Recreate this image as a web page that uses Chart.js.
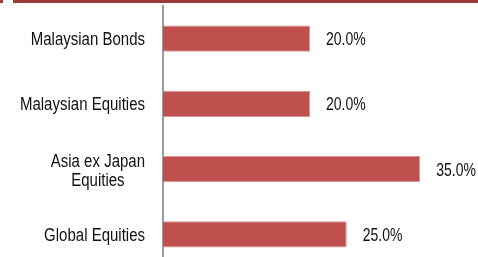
<!DOCTYPE html>
<html>
<head>
<meta charset="utf-8">
<script src="https://cdn.jsdelivr.net/npm/chart.js@4/dist/chart.umd.min.js"></script>
<style>
  html, body { margin: 0; padding: 0; background: #fff; overflow: hidden; }
  #wrap { position: relative; width: 478px; height: 257px; overflow: hidden; }
  .topline { position: absolute; top: 0; height: 3px; background: #9C3B39; }
  #chart { position: absolute; left: 0; top: 0; }
</style>
</head>
<body>
<div id="wrap">
  <canvas id="chart" width="478" height="267"></canvas>
  <div class="topline" style="left:0;width:3px"></div>
  <div class="topline" style="left:13px;right:0"></div>
</div>
<script>
// ========== Data ==========
const categories = [
    'Malaysian Bonds',
    'Malaysian Equities',
    ['Asia ex Japan', 'Equities'],
    'Global Equities'
];
const allocation = [20.0, 20.0, 35.0, 25.0];
const axisMax = 40;

const FONT = "'Liberation Sans', Arial, sans-serif";
const STRETCH = 1.25; // text in the source looks vertically stretched
const LABEL_RIGHT = 145;

function tallText(ctx, text, x, baseline) {
    ctx.save();
    ctx.translate(x, baseline);
    ctx.scale(1, STRETCH);
    ctx.fillText(text, 0, 0);
    ctx.restore();
}

// category names left of the axis + "xx.x%" right of each bar
const textLabels = {
    id: 'textLabels',
    afterDatasetsDraw(chart) {
        const ctx = chart.ctx;
        const yScale = chart.scales.y;
        const meta = chart.getDatasetMeta(0);
        ctx.save();
        ctx.fillStyle = '#111';
        ctx.textBaseline = 'alphabetic';

        ctx.font = '15px ' + FONT;
        categories.forEach((label, i) => {
            const y = yScale.getPixelForTick(i);
            if (Array.isArray(label)) {
                // multi-line labels are centred on each other, block right-aligned
                const w = Math.max(...label.map(l => ctx.measureText(l).width));
                const cx = LABEL_RIGHT - w / 2;
                ctx.textAlign = 'center';
                tallText(ctx, label[0], cx, y - 2);
                tallText(ctx, label[1], cx, y + 16.5);
            } else {
                ctx.textAlign = 'right';
                tallText(ctx, label, LABEL_RIGHT, y + 6.5);
            }
        });

        ctx.font = '14px ' + FONT;
        ctx.textAlign = 'left';
        meta.data.forEach((bar, i) => {
            tallText(ctx, allocation[i].toFixed(1) + '%', bar.x + 16, bar.y + 6.5);
        });
        ctx.restore();
    }
};

const chart = new Chart(document.getElementById('chart'), {
    type: 'bar',
    data: {
        labels: categories,
        datasets: [{
            data: allocation,
            backgroundColor: '#C0504D',
            borderColor: '#D99694',
            borderWidth: 1,
            borderSkipped: 'left',
            categoryPercentage: 0.4,
            barPercentage: 1.0
        }]
    },
    options: {
        indexAxis: 'y',
        responsive: false,
        animation: false,
        events: [],
        layout: { padding: { top: 6, right: 21, bottom: 0, left: 0 } },
        plugins: {
            legend: { display: false },
            tooltip: { enabled: false }
        },
        scales: {
            x: {
                display: false,
                min: 0,
                max: axisMax
            },
            y: {
                afterFit(scale) {
                    scale.width = 163;
                    scale.paddingTop = 0;
                    scale.paddingBottom = 0;
                },
                grid: { display: false, drawTicks: false },
                border: { display: true, color: '#9A9A9A', width: 2 },
                ticks: { display: false }
            }
        }
    },
    plugins: [textLabels]
});
</script>
</body>
</html>
